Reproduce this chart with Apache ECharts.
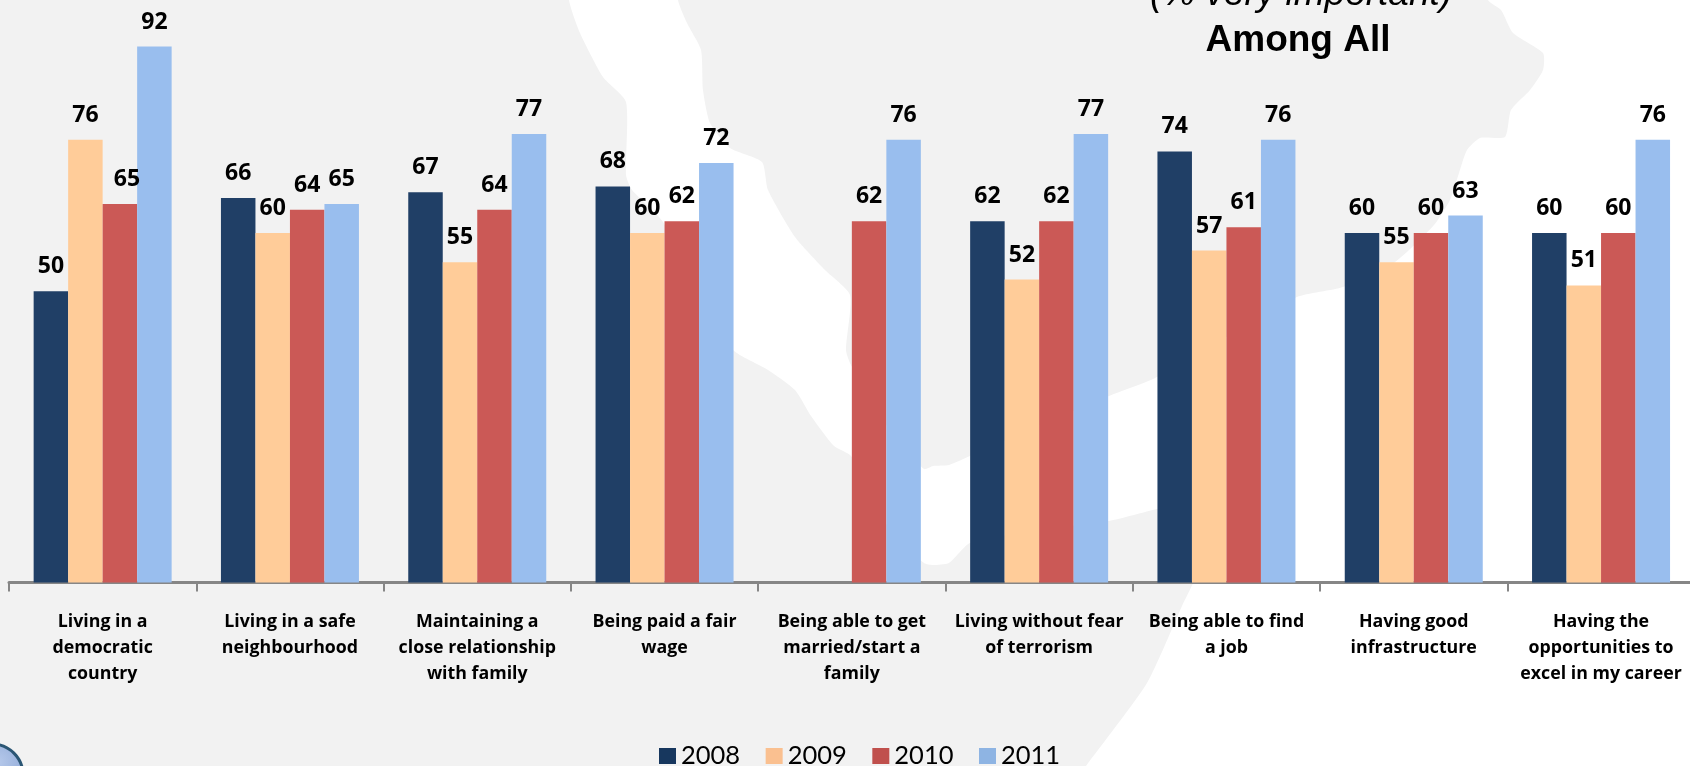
<!DOCTYPE html>
<html>
<head>
<meta charset="utf-8">
<style>html,body{margin:0;padding:0;background:#fff}#c{width:1690px;height:766px}</style>
<script src="https://cdn.jsdelivr.net/npm/echarts@6/dist/echarts.min.js"></script>
</head>
<body>
<div id="c"></div>
<script>
const categories = [
  'Living in a\ndemocratic\ncountry',
  'Living in a safe\nneighbourhood',
  'Maintaining a\nclose relationship\nwith family',
  'Being paid a fair\nwage',
  'Being able to get\nmarried/start a\nfamily',
  'Living without fear\nof terrorism',
  'Being able to find\na job',
  'Having good\ninfrastructure',
  'Having the\nopportunities to\nexcel in my career'
];
const years = ['2008', '2009', '2010', '2011'];
const values2008 = [50, 66, 67, 68, null, 62, 74, 60, 60];
const values2009 = [76, 60, 55, 60, null, 52, 57, 55, 51];
const values2010 = [65, 64, 64, 62, 62, 62, 61, 60, 60];
const values2011 = [92, 65, 77, 72, 76, 77, 76, 63, 76];
const seriesValues = [values2008, values2009, values2010, values2011];
const barColors = ['#203F66', '#FFCC99', '#CB5956', '#99BEEE'];
const legendColors = ['#17375E', '#FAC090', '#C0504D', '#8EB4E3'];

// decorative backdrop map silhouette (not data)
const backdropWest = [[-60,-60],[566,-60],[569,0],[580,33],[603,77],[626,102],[626,175],[632,190],[663,222],[700,300],[733,350],[768,370],[795,390],[811,416],[834,446],[851,456],[890,530],[924,563],[933,565],[949,563],[970,543],[1040,530],[1109,521],[1157,509],[1200,500],[1205,550],[1193,583],[1182,606],[1147,683],[1086,766],[1040,830],[-60,830]];
const backdropEast = [[675,-60],[678,0],[687,23],[701,50],[703,90],[710,123],[730,148],[762,162],[768,190],[795,237],[825,270],[850,295],[846,350],[851,365],[890,430],[924,469],[933,466],[949,465],[970,456],[1040,425],[1109,396],[1155,378],[1230,335],[1297,297],[1343,287],[1395,262],[1434,225],[1450,200],[1459,173],[1467,150],[1480,138],[1505,137],[1511,110],[1530,90],[1543,70],[1543,53],[1513,33],[1501,10],[1488,0],[1470,-60]];

const chart = echarts.init(document.getElementById('c'), null, {renderer: 'canvas'});
const labelBase = {show: true, position: 'top', distance: 13, color: '#000', fontFamily: 'Open Sans', fontWeight: 'bold', fontSize: 23};

chart.setOption({
  animation: false,
  backgroundColor: '#FFFFFF',
  title: [
    {text: '(% very important)', left: 1301, top: -24, padding: 0, textAlign: 'center',
     textStyle: {fontFamily: 'Liberation Sans', fontStyle: 'italic', fontWeight: 'normal', fontSize: 37, color: '#000'}},
    {text: 'Among All', left: 1298, top: 22, padding: 0, textAlign: 'center',
     textStyle: {fontFamily: 'Liberation Sans', fontWeight: 'bold', fontSize: 37, color: '#000'}}
  ],
  graphic: [
    {type: 'polygon', silent: true, z: -10, shape: {points: backdropWest, smooth: 0.2}, style: {fill: '#F2F2F2'}},
    {type: 'polygon', silent: true, z: -10, shape: {points: backdropEast, smooth: 0.2}, style: {fill: '#F2F2F2'}},
    {type: 'circle', silent: true, z: -5, shape: {cx: -8, cy: 775, r: 31},
     style: {fill: new echarts.graphic.RadialGradient(0.6, 0.3, 0.7, [{offset: 0, color: '#B5C8EA'}, {offset: 1, color: '#7F9CCF'}]), stroke: '#2B5674', lineWidth: 3}}
  ],
  grid: {left: 9, top: 0, width: 1685.7, height: 582.5, containLabel: false, outerBoundsMode: 'none'},
  legend: {
    left: 659, top: 743, padding: 0, icon: 'rect', itemWidth: 17, itemHeight: 16, itemGap: 25.5,
    data: years.map((y, i) => ({name: y, itemStyle: {color: legendColors[i]}})),
    textStyle: {fontFamily: 'Lato', fontSize: 25.5, color: '#000'}
  },
  xAxis: {
    type: 'category', data: categories, boundaryGap: true,
    axisLine: {show: true, lineStyle: {color: '#868686', width: 3}},
    axisTick: {show: true, alignWithLabel: false, length: 9, lineStyle: {color: '#868686', width: 2}},
    axisLabel: {interval: 0, margin: 26, fontFamily: 'Open Sans', fontWeight: 'bold', fontSize: 17.8, lineHeight: 26, color: '#000', align: 'center'}
  },
  yAxis: {type: 'value', min: 0, max: 100, show: false, splitLine: {show: false}},
  series: years.map((y, i) => ({
    name: y, type: 'bar', barWidth: 34.5, barGap: 0,
    itemStyle: {color: barColors[i]},
    label: labelBase,
    data: seriesValues[i].map((v, j) => (i === 2 && j === 0)
      ? {value: v, label: Object.assign({}, labelBase, {offset: [7, 0]})}
      : v)
  }))
});
</script>
</body>
</html>
